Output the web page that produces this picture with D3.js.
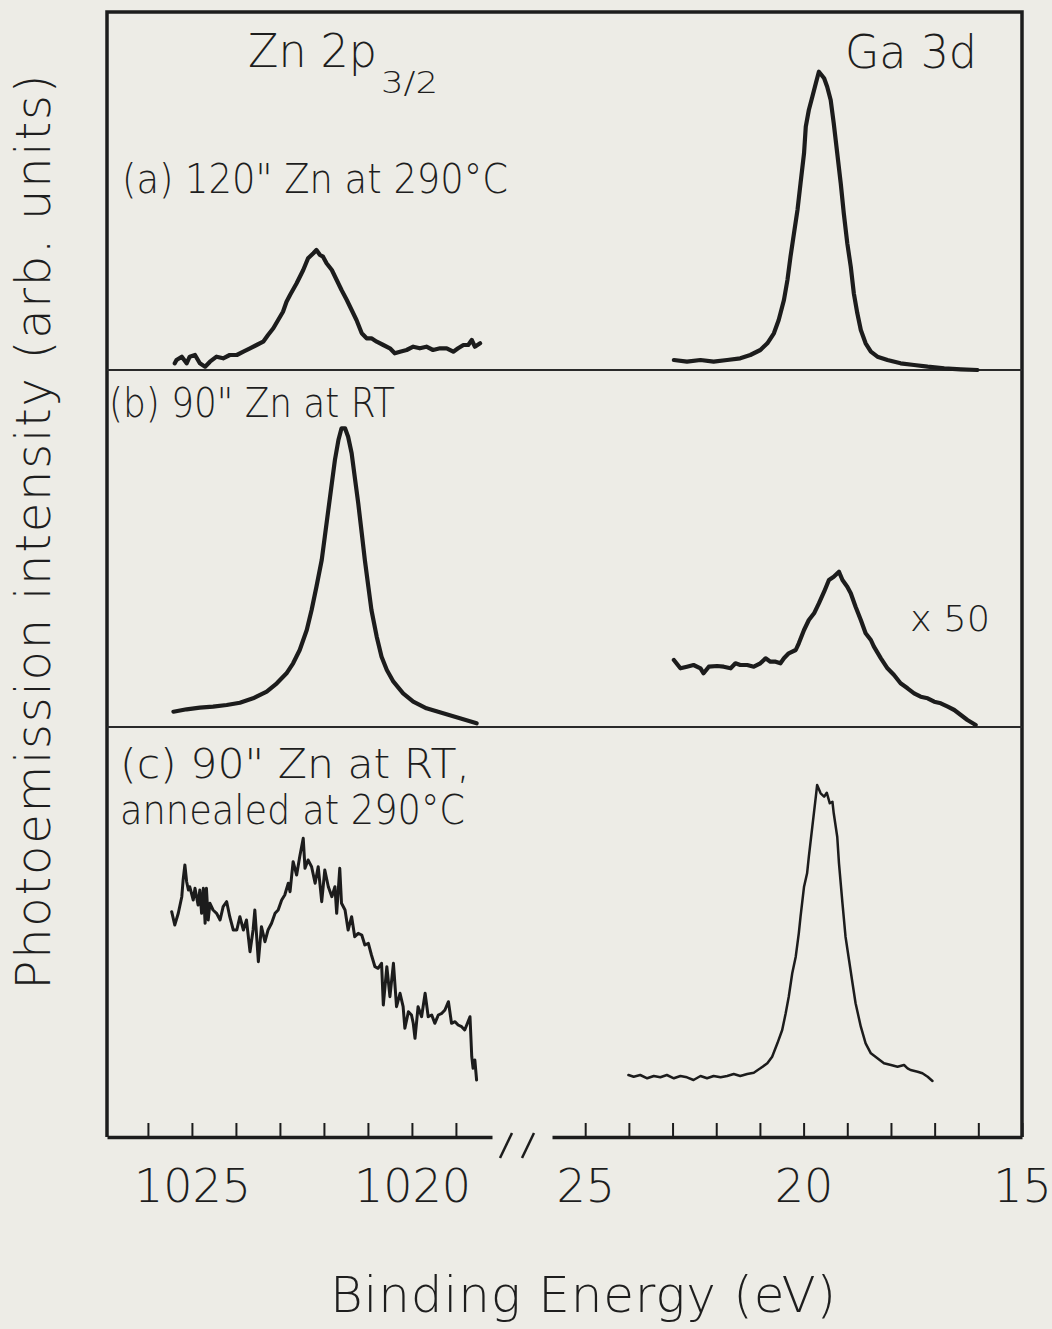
<!DOCTYPE html>
<html>
<head>
<meta charset="utf-8">
<script src="https://cdn.jsdelivr.net/npm/d3@7"></script>
<style>
  body { margin: 0; background: #edece6; }
  svg text { font-family: "DejaVu Sans", "Liberation Sans", sans-serif; font-weight: 200; fill: #1e1e1e; }
</style>
</head>
<body>
<svg id="chart" width="1052" height="1329"></svg>
<script>
// ---- data (energies in eV, intensity in arb. units) ----
const leftTicks = [1026, 1025, 1024, 1023, 1022, 1021, 1020, 1019]
const leftTickLabels = [1025, 1020]
const rightTicks = [25, 24, 23, 22, 21, 20, 19, 18, 17, 16, 15]
const rightTickLabels = [25, 20, 15]

// (a) 120" Zn at 290C
const znA_E = [1025.39,1025.35,1025.23,1025.12,1025.05,1024.93,1024.82,1024.70,1024.59,1024.44,
  1024.29,1024.14,1023.98,1023.83,1023.68,1023.53,1023.38,1023.27,1023.15,1023.04,
  1022.93,1022.85,1022.77,1022.62,1022.47,1022.36,1022.24,1022.17,1022.09,1022.02,
  1021.94,1021.82,1021.71,1021.60,1021.48,1021.37,1021.26,1021.14,1021.03,1020.92,
  1020.80,1020.65,1020.50,1020.39,1020.27,1020.12,1019.97,1019.82,1019.67,1019.52,
  1019.36,1019.21,1019.06,1018.95,1018.83,1018.72,1018.64,1018.57,1018.45]
const znA_I = [6.7,10,13.3,6.7,13.3,15,6.7,3.3,8.3,13.3,
  11.7,15,15,18.3,21.7,25,28.3,35,41.7,50,
  58.3,68.3,75,86.7,100,111.7,116.7,120,115,113.3,
  106.7,100,90,80,70,60,50,36.7,31.7,31.7,
  28.3,25,21.7,16.7,18.3,20,23.3,21.7,23.3,20,
  21.7,21.7,18.3,21.7,25,25,30,23.3,26.7]
const gaA_E = [22.97,22.67,22.36,22.06,21.75,21.45,21.22,20.99,20.83,20.68,
  20.57,20.45,20.37,20.30,20.22,20.14,20.07,19.99,19.95,19.88,
  19.80,19.72,19.65,19.53,19.46,19.38,19.31,19.23,19.15,19.08,
  19.00,18.92,18.85,18.77,18.69,18.58,18.46,18.31,18.08,17.78,
  17.47,17.16,16.78,16.40,16.02]
const gaA_I = [10,8.3,10,8.3,10,11.7,15,20,26.7,36.7,
  50,70,90,113.3,136.7,160,186.7,216.7,243.3,260,
  273.3,286.7,298.3,291.7,283.3,270,246.7,216.7,186.7,156.7,
  126.7,103.3,76.7,56.7,40,26.7,18.3,13.3,10,6.7,
  5,3.3,1.7,0.7,0]

// (b) 90" Zn at RT
const znB_E = [1025.42,1025.12,1024.82,1024.52,1024.21,1023.91,1023.61,1023.30,1023.07,1022.85,
  1022.70,1022.55,1022.39,1022.28,1022.17,1022.05,1021.98,1021.90,1021.82,1021.75,
  1021.67,1021.60,1021.52,1021.45,1021.37,1021.30,1021.22,1021.14,1021.07,1020.99,
  1020.92,1020.80,1020.69,1020.57,1020.42,1020.20,1019.97,1019.67,1019.29,1018.91,
  1018.53]
const znB_I = [15.3,17.7,19.3,20.3,22,24.3,28.7,35.3,43.7,53.7,
  63.7,77,97,117,140.3,167,190.3,217,243.7,267,
  287,298.7,298.7,290.3,273.7,250.3,223.7,193.7,167,140.3,
  117,90.3,70.3,57,45.3,33.7,25.3,18.7,13.7,8.7,
  3.7]
const gaB_E = [22.97,22.82,22.67,22.52,22.36,22.29,22.17,21.98,21.83,21.67,
  21.56,21.45,21.29,21.14,20.99,20.87,20.76,20.64,20.53,20.45,
  20.34,20.18,20.11,19.99,19.88,19.76,19.65,19.53,19.42,19.31,
  19.19,19.11,19.00,18.92,18.81,18.69,18.58,18.46,18.39,18.23,
  18.08,17.93,17.78,17.62,17.47,17.32,17.16,17.01,16.86,16.70,
  16.55,16.40,16.25,16.06]
const gaB_I = [67,58.7,60.3,62,58.7,53.7,60.3,61,60.3,58.7,
  63.7,62,62,60.3,63.7,68.7,65.3,65.3,63.7,68.7,
  73.7,77,83.7,97,107,113.7,123.7,135.3,147,150.3,
  155.3,147,140.3,133.7,120.3,107,93.7,87,80.3,68.7,
  58.7,52,43.7,38.7,33.7,30.3,28.7,25.3,23.7,20.3,
  17,12,7,2]

// (c) 90" Zn at RT, annealed at 290C
const znC_E = [1025.46,1025.39,1025.31,1025.23,1025.20,1025.16,1025.12,1025.08,1025.05,1024.97,
  1024.93,1024.86,1024.82,1024.78,1024.74,1024.70,1024.67,1024.63,1024.59,1024.52,
  1024.44,1024.36,1024.29,1024.21,1024.14,1024.06,1023.98,1023.91,1023.83,1023.76,
  1023.68,1023.61,1023.57,1023.49,1023.42,1023.34,1023.27,1023.19,1023.11,1023.04,
  1022.96,1022.89,1022.81,1022.77,1022.70,1022.62,1022.55,1022.47,1022.43,1022.36,
  1022.28,1022.20,1022.13,1022.05,1021.98,1021.90,1021.82,1021.75,1021.71,1021.64,
  1021.60,1021.52,1021.45,1021.37,1021.30,1021.22,1021.14,1021.07,1020.99,1020.92,
  1020.84,1020.77,1020.69,1020.65,1020.57,1020.50,1020.42,1020.35,1020.27,1020.20,
  1020.16,1020.08,1020.01,1019.97,1019.93,1019.86,1019.78,1019.70,1019.63,1019.55,
  1019.48,1019.40,1019.32,1019.25,1019.17,1019.10,1019.02,1018.95,1018.87,1018.80,
  1018.68,1018.64,1018.61,1018.57,1018.53]
const znC_I = [225.3,212,223.7,240.3,257,272,255.3,247,250.3,237,
  248.7,232,247,223.7,248.7,213.7,248.7,217,233.7,227,
  223.7,217,230.3,235.3,220.3,207,207,220.3,207,217,
  185.3,207,227,175.3,210.3,195.3,207,213.7,223.7,227,
  237,242,253.7,245.3,275.3,262,280.3,298.7,268.7,277,
  270.3,253.7,270.3,235.3,267,250.3,240.3,250.3,223.7,268.7,
  233.7,227,207,220.3,200.3,203.7,202,192,193.7,182,
  170.3,168.7,173.7,132,170.3,140.3,173.7,130.3,143.7,130.3,
  108.7,125.3,122,113.7,98.7,130.3,120.3,143.7,120.3,122,
  113.7,122,123.7,127,135.3,113.7,115.3,112,110.3,107,
  120.3,80.3,68.7,77,57]
const gaC_E = [24.01,23.89,23.74,23.58,23.43,23.28,23.13,22.97,22.82,22.67,
  22.52,22.36,22.21,22.06,21.90,21.75,21.60,21.45,21.29,21.14,
  20.99,20.83,20.72,20.60,20.49,20.41,20.34,20.26,20.18,20.11,
  20.07,19.99,19.92,19.88,19.80,19.72,19.69,19.61,19.53,19.47,
  19.40,19.34,19.31,19.23,19.19,19.11,19.04,18.96,18.88,18.81,
  18.69,18.58,18.46,18.31,18.16,18.00,17.85,17.70,17.62,17.55,
  17.39,17.28,17.16,17.05]
const gaC_I = [62,60.3,62,58.7,61,59.7,62,58.7,61,59.7,
  57,61,58.7,61,59.7,61,63,61,63,64.3,
  68.7,73.7,80.3,93.7,107,123.7,140.3,163.7,180.3,203.7,
  220.3,250.3,263.7,280.3,310.3,340.3,352,343.7,340.3,344.3,
  333.7,335.3,323.7,300.3,273.7,233.7,200.3,177,153.7,133.7,
  110.3,93.7,83.7,78.7,73.7,72,70.3,72,68.7,67,
  65.3,63.7,60.3,56]

// ---- layout ----
var frameL = 107, frameR = 1022, frameT = 12, axisY = 1137
var panels = [
  {top: 12, bottom: 370},
  {top: 370, bottom: 727},
  {top: 727, bottom: 1137}
]
var ink = "#1c1c1c"

var svg = d3.select("#chart")

// two broken energy scales
var xLeft = d3.scaleLinear().domain([1026.93, 1018.18]).range([frameL, 492])
var xRight = d3.scaleLinear().domain([25.76, 15]).range([552, frameR])

// one intensity scale per panel (arb. units, 1 unit = 1 px of height)
var yScales = panels.map(p => d3.scaleLinear().domain([0, p.bottom - p.top]).range([p.bottom, p.top]))

// frame (left, top, right)
svg.append("path")
  .attr("d", `M${frameL},${axisY}V${frameT}H${frameR}V${axisY}`)
  .attr("fill", "none")
  .attr("stroke", ink)
  .attr("stroke-width", 3.5)

// panel separators
svg.selectAll(".sep")
  .data(panels.slice(1))
  .enter()
  .append("line")
    .attr("x1", frameL).attr("x2", frameR)
    .attr("y1", d => d.top).attr("y2", d => d.top)
    .attr("stroke", "#2a2a2a")
    .attr("stroke-width", 2)

// bottom axes
function styleAxis(g) {
  g.select(".domain").attr("stroke", ink).attr("stroke-width", 3.5)
  g.selectAll(".tick line").attr("stroke", ink).attr("stroke-width", 2)
  g.selectAll(".tick text")
    .attr("fill", "#1e1e1e")
    .style("font-size", "46px")
    .style("font-family", '"DejaVu Sans", "Liberation Sans", sans-serif')
    .style("font-weight", 200)
}

svg.append("g")
  .attr("transform", `translate(0,${axisY})`)
  .call(d3.axisBottom(xLeft)
    .tickValues(leftTicks)
    .tickSizeInner(-14)
    .tickSizeOuter(0)
    .tickPadding(32)
    .tickFormat(d => leftTickLabels.includes(d) ? d : ""))
  .call(styleAxis)

svg.append("g")
  .attr("transform", `translate(0,${axisY})`)
  .call(d3.axisBottom(xRight)
    .tickValues(rightTicks)
    .tickSizeInner(-14)
    .tickSizeOuter(0)
    .tickPadding(32)
    .tickFormat(d => rightTickLabels.includes(d) ? d : ""))
  .call(styleAxis)

// axis break marks
svg.selectAll(".brk")
  .data([0, 22])
  .enter()
  .append("line")
    .attr("x1", d => 500 + d).attr("y1", 1158)
    .attr("x2", d => 512 + d).attr("y2", 1133)
    .attr("stroke", ink)
    .attr("stroke-width", 2.5)

// spectra
var curves = [
  {E: znA_E, I: znA_I, x: xLeft, panel: 0, w: 4.2},
  {E: gaA_E, I: gaA_I, x: xRight, panel: 0, w: 4.2},
  {E: znB_E, I: znB_I, x: xLeft, panel: 1, w: 4.2},
  {E: gaB_E, I: gaB_I, x: xRight, panel: 1, w: 4.2},
  {E: znC_E, I: znC_I, x: xLeft, panel: 2, w: 3},
  {E: gaC_E, I: gaC_I, x: xRight, panel: 2, w: 2.5}
]

curves.forEach(c => {
  var y = yScales[c.panel]
  var line = d3.line()
    .x(d => c.x(d[0]))
    .y(d => y(d[1]))
  svg.append("path")
    .datum(d3.zip(c.E, c.I))
    .attr("d", line)
    .attr("fill", "none")
    .attr("stroke", ink)
    .attr("stroke-width", c.w)
    .attr("stroke-linejoin", "round")
    .attr("stroke-linecap", "round")
})

// labels
function label(t, x, y, size, len) {
  return svg.append("text")
    .attr("x", x).attr("y", y)
    .attr("textLength", len)
    .attr("lengthAdjust", "spacingAndGlyphs")
    .style("font-size", size + "px")
    .text(t)
}

label("Zn 2p", 248, 67, 47, 129)
label("3/2", 381, 93, 30, 57)
label("Ga 3d", 845, 68, 47, 132)
label("(a) 120\" Zn at 290°C", 122, 193, 41, 386)
label("(b) 90\" Zn at RT", 109, 417, 41, 286)
label("(c) 90\" Zn at RT,", 120, 778, 41, 350)
label("annealed at 290°C", 120, 824, 41, 345)
label("x 50", 910, 631, 36, 80)

// axis titles
svg.append("text")
  .attr("x", 583).attr("y", 1312)
  .attr("text-anchor", "middle")
  .attr("textLength", 506)
  .attr("lengthAdjust", "spacing")
  .style("font-size", "50px")
  .text("Binding Energy (eV)")

svg.append("text")
  .attr("transform", "translate(50,532) rotate(-90)")
  .attr("text-anchor", "middle")
  .attr("textLength", 915)
  .attr("lengthAdjust", "spacing")
  .style("font-size", "48px")
  .text("Photoemission intensity (arb. units)")
</script>
</body>
</html>
